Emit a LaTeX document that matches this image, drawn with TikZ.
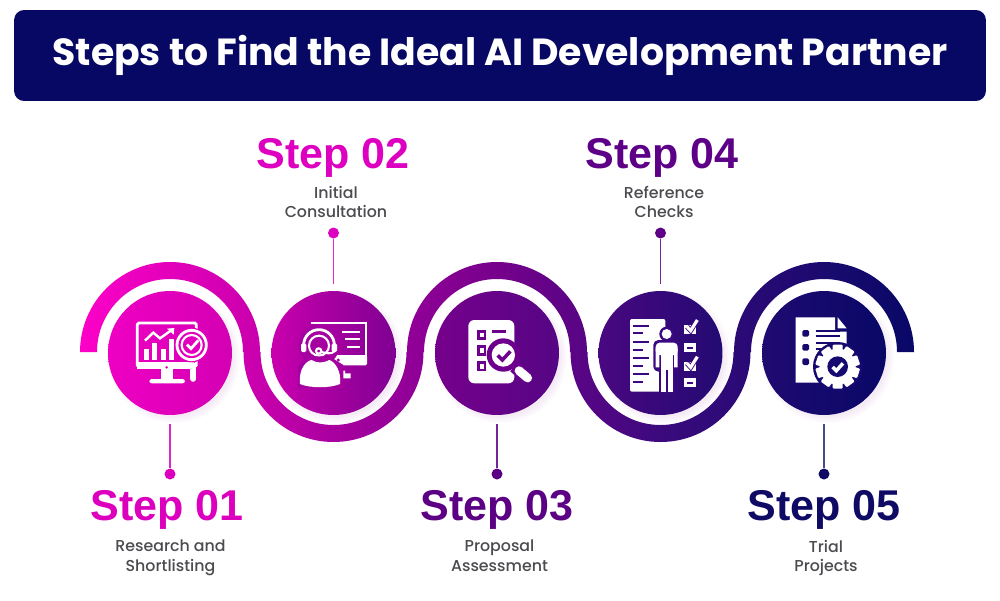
\documentclass[tikz,border=0pt]{standalone}
\usepackage{fontspec}
\usepackage{tikz}
\usetikzlibrary{positioning}
\setmainfont{Poppins}
\newfontfamily\stepfont{Liberation Sans}
\newfontfamily\labelfont{Poppins Medium}
\definecolor{Banner}{RGB}{7,7,100}
\definecolor{Caption}{RGB}{75,75,80}
\definecolor{R1}{RGB}{252,0,200}
\definecolor{R2}{RGB}{205,0,175}
\definecolor{R3}{RGB}{170,0,160}
\definecolor{R4}{RGB}{118,0,140}
\definecolor{R5}{RGB}{58,10,125}
\definecolor{R6}{RGB}{25,10,110}
\definecolor{R7}{RGB}{8,8,103}
\definecolor{I1}{RGB}{226,0,190}
\definecolor{I2}{RGB}{165,0,160}
\definecolor{I3}{RGB}{108,0,140}
\definecolor{I4}{RGB}{60,8,130}
\definecolor{I5}{RGB}{22,10,112}
\definecolor{S1}{RGB}{220,0,190}
\definecolor{S2}{RGB}{222,0,192}
\definecolor{S3}{RGB}{92,0,132}
\definecolor{S4}{RGB}{94,0,135}
\definecolor{S5}{RGB}{15,10,100}
\pgfdeclarehorizontalshading{ribbonshade}{100bp}{color(0bp)=(R1); color(25bp)=(R1); color(35bp)=(R2); color(40bp)=(R3); color(50bp)=(R4); color(60bp)=(R5); color(70bp)=(R6); color(75bp)=(R7); color(100bp)=(R7)}

\begin{document}
\begin{tikzpicture}[x=0.02cm, y=0.02cm]
	\tikzstyle{Disc}	= [circle, minimum size=2.48cm, inner sep=0pt]
	\tikzstyle{Dot}		= [circle, minimum size=0.22cm, inner sep=0pt]
	\tikzstyle{Stem}	= [line width=0.9pt]
	\tikzstyle{StepText}	= [anchor=base, inner sep=0pt, font=\stepfont\bfseries\fontsize{24.5}{30}\selectfont]
	\tikzstyle{Label}	= [align=center, inner sep=0pt, text=Caption, font=\labelfont\fontsize{9}{11.1}\selectfont]
	\tikzstyle{Icon}	= [xscale=1/3, yscale=-1/3]

	\useasboundingbox (0,0) rectangle (1000,600);

	% banner
	\node (banner) at (500,544.5) [fill=Banner, rounded corners=0.2cm, minimum width=19.44cm, minimum height=1.82cm, inner sep=0pt] {};
	\node (title) at (banner.center) [text=white, font=\bfseries\fontsize{21.5}{26}\selectfont] {Steps to Find the Ideal AI Development Partner};

	% ribbon
	\shade [shading=ribbonshade] (80,248) arc (180:0:90) -- (260.5,248) arc (180:360:73) -- (407,248) arc (180:0:90) -- (587.5,248) arc (180:360:73) -- (734,248) arc (180:0:90)
		-- (897,248) arc (0:180:73) -- (750.5,248) arc (0:-180:90) -- (570,248) arc (0:180:73) -- (423.5,248) arc (0:-180:90) -- (243,248) arc (0:180:73) -- cycle;

	% soft shadows
	\foreach \cx in {170,333.5,497,660.5,824} {
		\foreach \rad in {60,62,64,66} {
			\fill [violet, opacity=0.02] (\cx+4,243) circle (\rad);
		}
	}

	% discs
	\node (c1) at (170,247) [Disc, left color=R1!50!I1, right color=R2!70!I1] {};
	\node (c2) at (333.5,247) [Disc, left color=R2!90!R3, right color=I3!70!R3] {};
	\node (c3) at (497,247) [Disc, left color=R4, right color=R5!55!R4] {};
	\node (c4) at (660.5,247) [Disc, left color=R5!75!R4, right color=R6!70!R5] {};
	\node (c5) at (824,247) [Disc, left color=R6!80!R5, right color=R7] {};

	% stems and dots
	\node (d1) at (170,126) [Dot, fill=S1] {};
	\node (d2) at (333.5,367) [Dot, fill=S2] {};
	\node (d3) at (497,126) [Dot, fill=S3] {};
	\node (d4) at (660.5,367) [Dot, fill=S4] {};
	\node (d5) at (824,126) [Dot, fill=S5] {};
	\coordinate (e1) at (170,176);
	\coordinate (e2) at (333.5,316);
	\coordinate (e3) at (497,176);
	\coordinate (e4) at (660.5,316);
	\coordinate (e5) at (824,176);
	\draw [Stem, S1!85!white] (d1) -- (e1);
	\draw [Stem, S2!85!white] (d2) -- (e2);
	\draw [Stem, S3!85!white] (d3) -- (e3);
	\draw [Stem, S4!85!white] (d4) -- (e4);
	\draw [Stem, S5!75!white] (d5) -- (e5);

	% step texts
	\node (s1) at (167,80) [StepText, text=S1] {Step 01};
	\node (s2) at (333,432) [StepText, text=S2] {Step 02};
	\node (s3) at (497,80) [StepText, text=S3] {Step 03};
	\node (s4) at (662,432) [StepText, text=S4] {Step 04};
	\node (s5) at (824,80) [StepText, text=S5] {Step 05};

	\node (l1) at (170.5,42) [Label] {Research and\\Shortlisting};
	\node (l2) at (336,398) [Label] {Initial\\Consultation};
	\node (l3) at (499.5,44.5) [Label] {Proposal\\Assessment};
	\node (l4) at (664,398) [Label] {Reference\\Checks};
	\node (l5) at (826,42) [Label] {Trial\\Projects};

	% icon 1
	\begin{scope}[shift={(125,290)}, Icon]
		\draw [white, line width=1.6pt, rounded corners=0.03cm] (37,39) rectangle (214,170);
		\fill [white] (36,155) rectangle (200,178);
		\fill [white] (108,178) rectangle (145,208);
		\fill [white, rounded corners=0.05cm] (73,207) rectangle (180,220);
		\fill [I1] (125,172) circle (4);
		\fill [white] (58,118) rectangle (72,150);
		\fill [white] (82,100) rectangle (96,150);
		\fill [white] (108,118) rectangle (122,150);
		\fill [white] (132,88) rectangle (146,150);
		\draw [white, line width=1.4pt] (60,92) -- (85,68) -- (105,85) -- (140,60);
		\fill [white] (126,56) -- (148,54) -- (146,74) -- cycle;
		\fill [I1] (200,105) circle (52);
		\draw [white, line width=1.6pt] (200,105) circle (44);
		\draw [white, line width=1.2pt] (200,105) circle (30);
		\draw [white, line width=1.6pt] (186,104) -- (198,116) -- (220,91);
		\draw [white, line width=3.6pt, line cap=round] (205,166) -- (205,206);
	\end{scope}

	% icon 2
	\begin{scope}[shift={(290,290)}, Icon]
		\draw [white, line width=1.2pt] (62,40) -- (228,40) -- (228,140);
		\fill [white, rounded corners=0.03cm] (120,135) rectangle (231,166);
		\fill [I2] (145,150) circle (5);
		\draw [white, line width=1.2pt] (155,65) -- (210,65);
		\draw [white, line width=1.2pt] (165,87) -- (210,87);
		\draw [white, line width=1.2pt] (172,110) -- (210,110);
		\fill [white] (155,182) rectangle (165,205) (165,190) rectangle (182,205);
		\fill [I2] (87,105) circle (62);
		\draw [white, line width=1.6pt] (41,105) arc (180:360:46);
		\fill [white, rounded corners=0.03cm] (33,100) rectangle (49,126);
		\fill [white, rounded corners=0.03cm] (125,100) rectangle (141,126);
		\draw [white, line width=1.2pt] (87,107) circle (30);
		\fill [I2] (24,235) -- (24,165) -- (60,140) -- (120,140) -- (160,165) -- (160,235) -- cycle;
		\fill [white] (30,222) .. controls (25,175) and (50,152) .. (65,150) .. controls (80,160) and (100,160) .. (118,150) .. controls (135,155) and (155,185) .. (150,222) .. controls (120,235) and (60,235) .. (30,222) -- cycle;
		\draw [white, line width=1.2pt] (133,124) .. controls (125,135) and (105,128) .. (90,125);
		\draw [white, line width=1.2pt] (86,123) circle (8);
	\end{scope}

	% icon 3
	\begin{scope}[shift={(455,290)}, Icon]
		\fill [white, rounded corners=0.12cm] (40,30) rectangle (178,220);
		\draw [I3, line width=1.6pt] (70,64) rectangle (90,86);
		\draw [I3, line width=1.6pt] (70,110) rectangle (90,133);
		\draw [I3, line width=1.6pt] (70,157) rectangle (90,180);
		\draw [I3, line width=1.6pt] (112,65) -- (152,65);
		\draw [I3, line width=1.6pt] (112,108) -- (130,108);
		\fill [I3] (145,135) circle (50);
		\fill [white] (145,135) circle (35);
		\draw [I3, line width=2pt] (128,136) -- (142,150) -- (166,124);
		\draw [I3, line width=7pt] (178,170) -- (216,204);
		\draw [white, line width=5pt, line cap=round] (192,182) -- (218,204);
	\end{scope}

	% icon 4
	\begin{scope}[shift={(620,290)}, Icon]
		\fill [white, rounded corners=0.04cm] (30,27) rectangle (136,245);
		\draw [I4, line width=1.2pt] (40,48) -- (87,48);
		\draw [I4, line width=1.2pt] (40,70) -- (70,70);
		\draw [I4, line width=1.2pt] (40,95) -- (87,95);
		\draw [I4, line width=1.2pt] (40,120) -- (70,120);
		\draw [I4, line width=1.2pt] (40,145) -- (87,145);
		\draw [I4, line width=1.2pt] (40,168) -- (70,168);
		\draw [I4, line width=1.2pt] (40,192) -- (87,192);
		\draw [I4, line width=1.2pt] (40,215) -- (70,215);
		\fill [I4] (140,72) circle (22);
		\fill [I4, rounded corners=0.1cm] (100,90) rectangle (180,185);
		\fill [I4] (116,170) rectangle (164,250);
		\fill [white] (140,72) circle (15);
		\fill [white, rounded corners=0.08cm] (107,98) rectangle (173,135);
		\fill [white] (107,115) rectangle (118,172) (162,115) rectangle (173,172);
		\fill [white] (122,125) rectangle (158,245);
		\fill [I4] (137,180) rectangle (143,245);
		\fill [white] (192,45) rectangle (228,72);
		\draw [I4, line width=2.8pt] (201,50) -- (212,62) -- (232,30);
		\draw [white, line width=1.8pt] (201,50) -- (212,62) -- (232,30);
		\fill [white] (192,100) rectangle (228,127);
		\fill [I4] (201,110) rectangle (219,117);
		\fill [white] (192,155) rectangle (228,182);
		\draw [I4, line width=2.8pt] (201,160) -- (212,172) -- (232,140);
		\draw [white, line width=1.8pt] (201,160) -- (212,172) -- (232,140);
		\fill [white] (192,205) rectangle (228,232);
		\fill [I4] (201,215) rectangle (219,222);
	\end{scope}

	% icon 5
	\begin{scope}[shift={(785,290)}, Icon]
		\fill [white] (32,22) -- (150,22) -- (150,65) -- (185,65) -- (185,140) -- (100,218) -- (32,218) -- cycle;
		\fill [white] (158,22) -- (185,55) -- (158,55) -- cycle;
		\fill [I5, rounded corners=0.03cm] (52,60) rectangle (72,80);
		\fill [I5, rounded corners=0.03cm] (52,102) rectangle (72,122);
		\fill [I5, rounded corners=0.03cm] (52,145) rectangle (72,165);
		\draw [I5, line width=1.2pt] (92,62) -- (166,62);
		\draw [I5, line width=1.2pt] (92,78) -- (166,78);
		\draw [I5, line width=1.2pt] (92,100) -- (166,100);
		\draw [I5, line width=1.2pt] (92,116) -- (130,116);
		\fill [I5] (158,170) circle (74);
		\fill [white] (158,170) circle (54);
		\foreach \ang in {0,36,...,324} {
			\fill [white, rotate around={\ang:(158,170)}, rounded corners=0.02cm] (143,104) rectangle (173,125);
		}
		\fill [I5] (158,170) circle (31);
		\draw [white, line width=2pt] (143,171) -- (154,182) -- (174,160);
	\end{scope}
\end{tikzpicture}
\end{document}
